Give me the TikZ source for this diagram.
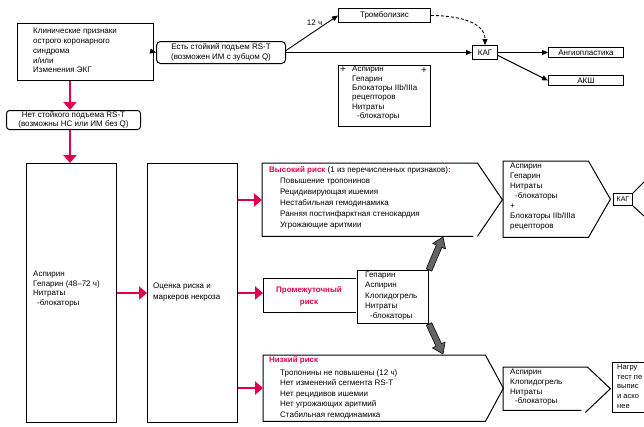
\documentclass[tikz,border=0pt]{standalone}
\usepackage{fontspec}
\setmainfont{Liberation Sans}
\usetikzlibrary{arrows.meta,calc}
\definecolor{rk}{RGB}{226,0,72}
\definecolor{ga}{RGB}{100,100,100}
\newcommand\grayarr[2]{%
  \coordinate (gn) at ($(#2)!10pt!(#1)$);
  \filldraw[fill=ga, draw=black, line width=0.6pt, line join=round]
    ($(#1)!3pt!90:(#2)$) -- ($(gn)!3pt!90:(#2)$) -- ($(gn)!7pt!90:(#2)$) -- (#2)
    -- ($(gn)!7pt!-90:(#2)$) -- ($(gn)!3pt!-90:(#2)$) -- ($(#1)!3pt!-90:(#2)$) -- cycle;}
\begin{document}
\begin{tikzpicture}[x=1pt,y=-1pt,
  font=\fontsize{8}{10}\selectfont,
  bx/.style={draw, line width=1pt, inner sep=0pt, anchor=north west},
  ar/.style={inner sep=0pt, anchor=north west},
  tx/.style={inner sep=0pt, anchor=north west, align=left},
  conn/.style={line width=0.9pt, -{Triangle[length=6pt,width=5pt]}},
  redarr/.style={draw=rk, line width=2.6pt, -{Triangle[length=8pt,width=13pt]}},
  ln/.style={line width=1pt, line join=miter}]
\fill[white] (0,0) rectangle (644,426);
\useasboundingbox (0,0) rectangle (644,426);
\clip (0,0) rectangle (644,426);
% top row
\node[bx, minimum width=136pt, minimum height=57pt] (clin) at (17,23) {};
\node[tx, font=\fontsize{8}{9.8}\selectfont] (clint) at (33,28) {Клинические признаки\\острого коронарного\\синдрома\\и/или\\Изменения ЭКГ};
\node[bx, rounded corners=4pt, minimum width=129pt, minimum height=22pt, align=center, font=\fontsize{8}{10.6}\selectfont] (st) at (156,41) {Есть стойкий подъем RS-T\\(возможен ИМ с зубцом Q)};
\draw[conn] (clin.east) -- (st.west);
\node[bx, minimum width=92pt, minimum height=14pt] (thr) at (338,8) {Тромболизис};
\node[bx, minimum width=25pt, minimum height=14pt] (kag) at (472,45) {КАГ};
\node[bx, minimum width=75pt, minimum height=10pt] (ang) at (548,47) {Ангиопластика};
\node[bx, minimum width=75pt, minimum height=10pt] (aks) at (548,75) {АКШ};
\draw[conn] ($(st.east)+(0,-2)$) -- node[pos=0.55, above=5pt, inner sep=0pt] (h12) {12 ч} (thr.west);
\draw[conn] (st.east) -- (kag.west);
\draw[conn, dash pattern=on 3pt off 2pt] (thr.east) to[out=0,in=90] (kag.north);
\draw[conn] (kag.east) -- (ang.west);
\draw[conn] ($(kag.east)+(0,3)$) -- (aks.west);
\node[bx, minimum width=92pt, minimum height=61pt] (med) at (338,65) {};
\node[tx, font=\fontsize{8}{9.4}\selectfont] (medt) at (352,66) {Аспирин\\Гепарин\\Блокаторы IIb/IIIa\\рецепторов\\Нитраты\\\hspace*{5pt}-блокаторы};
\node[inner sep=0pt, font=\fontsize{10}{10}\selectfont] (p1) at (343,70) {+};
\node[inner sep=0pt, font=\fontsize{10}{10}\selectfont] (p2) at (424,71) {+};
% left column
\coordinate (ra) at (70,0);
\node[bx, rounded corners=3pt, minimum width=134pt, minimum height=19pt, align=center, font=\fontsize{8}{8.4}\selectfont] (nost) at (6,110) {Нет стойкого подъема RS-T\\(возможны НС или ИМ без Q)};
\draw[redarr] (clin.south -| ra) -- (nost.north -| ra);
\node[bx, minimum width=90pt, minimum height=259pt] (A) at (26,163) {};
\node[bx, minimum width=90pt, minimum height=259pt] (B) at (147,163) {};
\draw[redarr] (nost.south -| ra) -- (A.north -| ra);
\node[tx, font=\fontsize{8}{9.5}\selectfont] (At) at (33,271) {Аспирин\\Гепарин (48–72 ч)\\Нитраты\\\hspace*{4pt}-блокаторы};
\node[tx, font=\fontsize{8}{11}\selectfont] (Bt) at (153,283) {Оценка риска и\\маркеров некроза};
\coordinate (yh) at (0,200);
\coordinate (ym) at (0,293);
\coordinate (yl) at (0,388);
% high risk
\node[ar, minimum width=215pt, minimum height=73pt] (hi) at (262,163) {};
\draw[ln] ($(hi.south east)+(-4,0)$) -- (hi.south west) -- (hi.north west) -- (hi.north east) -- ($(hi.east)+(25,0)$) -- (hi.south east);
\node[tx] (hit) at (269,166) {\textcolor{rk}{\bfseries Высокий риск} (1 из перечисленных признаков)\textcolor{rk}{\bfseries :}};
\node[tx, font=\fontsize{8}{11}\selectfont] (hii) at (280,178) {Повышение тропонинов\\Рецидивирующая ишемия\\Нестабильная гемодинамика\\Ранняя постинфарктная стенокардия\\Угрожающие аритмии};
% intermediate
\node[ar, minimum width=93pt, minimum height=34pt] (mi) at (263,278) {};
\draw[ln] (mi.north east) -- (mi.north west) -- (mi.south west) -- (mi.south east);
\node[inner sep=0pt, align=center, text=rk, font=\fontsize{8}{12}\selectfont\bfseries] (mit) at (309,296) {Промежуточный\\риск};
\node[bx, minimum width=71pt, minimum height=53pt] (mr) at (357,270) {};
\node[tx, font=\fontsize{8}{10.2}\selectfont] (mrt) at (365,272) {Гепарин\\Аспирин\\Клопидогрель\\Нитраты\\\hspace*{5pt}-блокаторы};
% low risk
\node[ar, minimum width=222pt, minimum height=66pt] (lo) at (263,355) {};
\draw[ln] (lo.north west) -- (lo.north east) -- ($(lo.east)+(18,0)$) -- (lo.south east) -- (lo.south west) -- cycle;
\node[tx, text=rk, font=\fontsize{8}{10}\selectfont\bfseries] (lot) at (269,356) {Низкий риск};
\node[tx, font=\fontsize{8}{10.5}\selectfont] (loi) at (280,369) {Тропонины не повышены (12 ч)\\Нет изменений сегмента RS-T\\Нет рецидивов ишемии\\Нет угрожающих аритмий\\Стабильная гемодинамика};
% red arrows
\draw[redarr] (A.east |- ym) -- (B.west |- ym);
\draw[redarr] (B.east |- yh) -- (hi.west |- yh);
\draw[redarr] (B.east |- ym) -- (mi.west |- ym);
\draw[redarr] (B.east |- yl) -- (lo.west |- yl);
% gray arrows
\coordinate (g1) at (443,237);
\coordinate (g2) at (443,354);
\grayarr{mr.north east}{g1}
\grayarr{mr.south east}{g2}
% high meds
\node[ar, minimum width=85pt, minimum height=76pt] (hm) at (503,161) {};
\draw[ln] (hm.north west) -- (hm.north east) -- ($(hm.east)+(22,0)$) -- (hm.south east) -- (hm.south west) -- cycle;
\node[tx, font=\fontsize{8}{10}\selectfont] (hmt) at (510,163) {Аспирин\\Гепарин\\Нитраты\\\hspace*{5pt}-блокаторы\\+\\Блокаторы IIb/IIIa\\рецепторов};
\node[bx, minimum width=19pt, minimum height=12pt, font=\fontsize{7}{8}\selectfont] (kag2) at (613,193) {КАГ};
\coordinate (e1) at (644,182);
\coordinate (e2) at (644,216);
\draw[ln] (kag2.north east) -- (e1);
\draw[ln] (kag2.south east) -- (e2);
% low meds
\node[ar, minimum width=84pt, minimum height=43pt] (lm) at (503,367) {};
\draw[ln] ($(lm.south east)+(-6,0)$) -- (lm.south west) -- (lm.north west) -- (lm.north east) -- ($(lm.east)+(23,0)$) -- ($(lm.south east)+(-2,2)$);
\node[tx, font=\fontsize{8}{9.7}\selectfont] (lmt) at (510,369) {Аспирин\\Клопидогрель\\Нитраты\\\hspace*{5pt}-блокаторы};
\node[bx, minimum width=50pt, minimum height=50pt] (tst) at (612,362) {};
\node[tx, font=\fontsize{7.5}{9.8}\selectfont] (tstt) at (617,364) {Нагру\\тест пе\\выпис\\и аско\\нее};
\end{tikzpicture}
\end{document}
